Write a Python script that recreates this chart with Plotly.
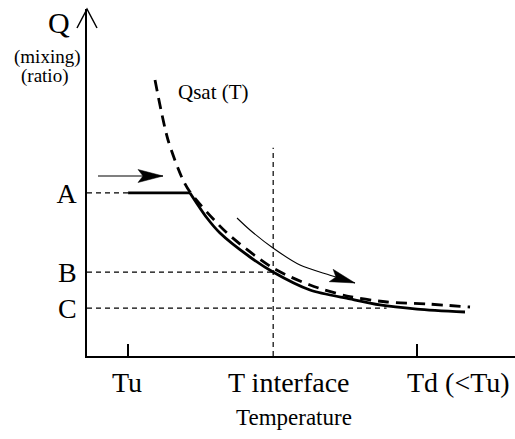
import plotly.graph_objects as go

# ---------------- data (abstract temperature / mixing-ratio units) ----------------
x_tick_vals = [0.96, 4.35, 7.71]                 # Tu, T interface, Td
x_tick_text = ["Tu", "T interface", "Td (<Tu)"]
y_level_vals = [4.70, 2.42, 1.38]                # A, B, C
y_level_text = ["A", "B", "C"]

qsat_T = [1.589, 1.893, 2.243, 2.407, 3.271, 4.346, 5.210, 6.075, 7.009, 7.944, 8.949]
qsat_Q = [7.954, 6.225, 5.072, 4.726, 3.545, 2.536, 2.046, 1.729, 1.556, 1.499, 1.412]

mix_flat_T = [0.96, 2.407]
mix_flat_Q = [4.70, 4.70]
mix_curve_T = [2.407, 2.804, 3.107, 3.808, 4.346, 5.210, 6.145, 6.846, 7.710, 8.832]
mix_curve_Q = [4.70, 3.977, 3.545, 2.853, 2.421, 1.902, 1.643, 1.470, 1.354, 1.268]

inflow_arrow_T = [0.257, 1.776]
inflow_arrow_Q = [5.187, 5.187]
cooling_arrow_T = [3.505, 3.808, 4.346, 4.977, 5.678, 6.262]
cooling_arrow_Q = [3.977, 3.631, 3.112, 2.622, 2.330, 2.104]

guide_ends_T = [0.96, 4.35, 7.0]                 # where the A, B, C guides stop
interface_top_Q = 6.0

# ---------------- layout geometry ----------------
W, H = 515, 439
M_L, M_R, M_T, M_B = 87, 0, 9, 83
X_RANGE = [0, 10]
Y_RANGE = [0, 10]
PW, PH = W - M_L - M_R, H - M_T - M_B
SX = PW / (X_RANGE[1] - X_RANGE[0])
SY = PH / (Y_RANGE[1] - Y_RANGE[0])

SERIF = "Liberation Serif"
BLACK = "#000000"


def arrow_head(tip_x, tip_y, from_x, from_y, length=25, half_w=6.5, notch=5):
    """Notched filled arrow head polygon, sized in pixels, returned in data units."""
    dx = (tip_x - from_x) * SX
    dy = -(tip_y - from_y) * SY
    n = (dx * dx + dy * dy) ** 0.5
    ux, uy = dx / n, dy / n
    px, py = -uy, ux
    pts = [
        (0, 0),
        (-length * ux + half_w * px, -length * uy + half_w * py),
        (-(length - notch) * ux, -(length - notch) * uy),
        (-length * ux - half_w * px, -length * uy - half_w * py),
        (0, 0),
    ]
    xs = [tip_x + a / SX for a, b in pts]
    ys = [tip_y - b / SY for a, b in pts]
    return xs, ys


fig = go.Figure()

thin_dash = dict(color=BLACK, width=1.2, dash="5px,4px")

# guide lines A, B, C
for lvl, end in zip(y_level_vals, guide_ends_T):
    fig.add_trace(go.Scatter(x=[X_RANGE[0], end], y=[lvl, lvl], mode="lines",
                             line=thin_dash, hoverinfo="skip"))
# T interface vertical
fig.add_trace(go.Scatter(x=[x_tick_vals[1], x_tick_vals[1]], y=[Y_RANGE[0], interface_top_Q],
                         mode="lines", line=thin_dash, hoverinfo="skip"))

# Qsat(T) dashed curve
fig.add_trace(go.Scatter(x=qsat_T, y=qsat_Q, mode="lines",
                         line=dict(color=BLACK, width=2.8, dash="11px,7px", shape="spline",
                                   smoothing=0.8)))

# mixing line (solid)
fig.add_trace(go.Scatter(x=mix_flat_T, y=mix_flat_Q, mode="lines",
                         line=dict(color=BLACK, width=2.8)))
fig.add_trace(go.Scatter(x=mix_curve_T, y=mix_curve_Q, mode="lines",
                         line=dict(color=BLACK, width=2.8, shape="spline", smoothing=0.8)))

# inflow arrow
fig.add_trace(go.Scatter(x=inflow_arrow_T, y=inflow_arrow_Q, mode="lines",
                         line=dict(color=BLACK, width=1.2)))
hx, hy = arrow_head(inflow_arrow_T[-1], inflow_arrow_Q[-1], inflow_arrow_T[-2], inflow_arrow_Q[-2])
fig.add_trace(go.Scatter(x=hx, y=hy, mode="lines", fill="toself", fillcolor=BLACK,
                         line=dict(color=BLACK, width=0.5)))

# cooling arrow
fig.add_trace(go.Scatter(x=cooling_arrow_T, y=cooling_arrow_Q, mode="lines",
                         line=dict(color=BLACK, width=1.1, shape="spline", smoothing=0.8)))
hx, hy = arrow_head(cooling_arrow_T[-1], cooling_arrow_Q[-1], cooling_arrow_T[-2], cooling_arrow_Q[-2])
fig.add_trace(go.Scatter(x=hx, y=hy, mode="lines", fill="toself", fillcolor=BLACK,
                         line=dict(color=BLACK, width=0.5)))

annotations = []
# x tick labels (offsets mimic the original's placement)
x_label_style = [("center", -1), ("center", 16), ("left", -12)]
for v, t, (anc, xs) in zip(x_tick_vals, x_tick_text, x_label_style):
    annotations.append(dict(x=v, y=Y_RANGE[0], xref="x", yref="y", text=t, showarrow=False,
                            xanchor=anc, yanchor="top", xshift=xs, yshift=-9,
                            font=dict(family=SERIF, size=28, color=BLACK)))
annotations.append(dict(x=0.4836, y=0, xref="paper", yref="paper", text="Temperature",
                        showarrow=False, xanchor="center", yanchor="top", yshift=-47,
                        font=dict(family=SERIF, size=23, color=BLACK)))
annotations.append(dict(x=0, y=1, xref="paper", yref="paper", text="Q", showarrow=False,
                        xanchor="right", yanchor="middle", xshift=-15, yshift=-13,
                        font=dict(family=SERIF, size=30, color=BLACK)))
annotations.append(dict(x=0, y=1, xref="paper", yref="paper", text="(mixing)", showarrow=False,
                        xanchor="center", yanchor="middle", xshift=-40, yshift=-48,
                        font=dict(family=SERIF, size=19, color=BLACK)))
annotations.append(dict(x=0, y=1, xref="paper", yref="paper", text="(ratio)", showarrow=False,
                        xanchor="center", yanchor="middle", xshift=-43, yshift=-67,
                        font=dict(family=SERIF, size=19, color=BLACK)))
annotations.append(dict(x=2.08, y=7.61, xref="x", yref="y", text="Qsat (T)", showarrow=False,
                        xanchor="left", yanchor="middle",
                        font=dict(family=SERIF, size=21, color=BLACK)))

# open arrow head on top of the Q axis
aw, ah = 10 / PW, 19 / PH
shapes = [dict(type="path", xref="paper", yref="paper",
               path=f"M {-aw},{1 - ah} L 0,1 L {aw},{1 - ah}",
               line=dict(color=BLACK, width=1.5))]

fig.update_layout(
    width=W, height=H, autosize=False,
    margin=dict(l=M_L, r=M_R, t=M_T, b=M_B, pad=0),
    paper_bgcolor="white", plot_bgcolor="white",
    showlegend=False,
    annotations=annotations, shapes=shapes,
    xaxis=dict(range=X_RANGE, showgrid=False, zeroline=False, showline=True,
               linecolor=BLACK, linewidth=1.5, ticks="inside", ticklen=12, tickwidth=1.5,
               tickcolor=BLACK, tickvals=[x_tick_vals[0], x_tick_vals[2]],
               showticklabels=False, fixedrange=True),
    yaxis=dict(range=Y_RANGE, showgrid=False, zeroline=False, showline=True,
               linecolor=BLACK, linewidth=1.5, ticks="", tickvals=y_level_vals,
               ticktext=y_level_text, ticklabelstandoff=3,
               tickfont=dict(family=SERIF, size=28, color=BLACK), fixedrange=True),
)

fig.write_html("out.html", config={"displayModeBar": False},
               post_script="document.body.style.margin='0';document.body.style.overflow='hidden';")
